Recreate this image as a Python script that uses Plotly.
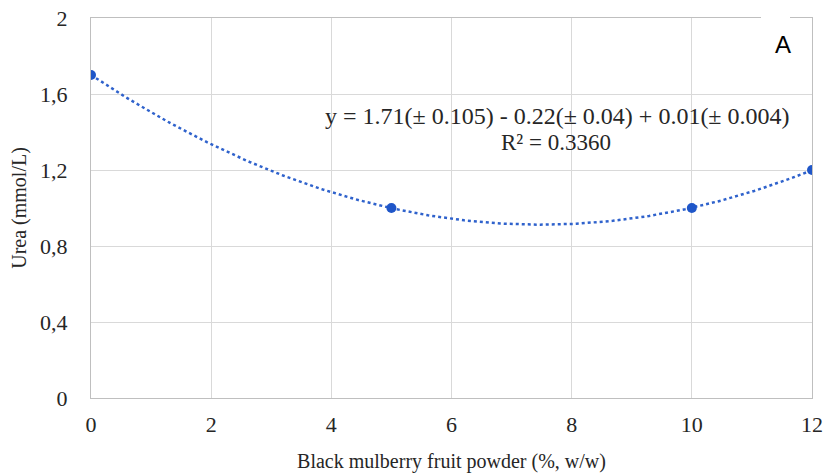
import numpy as np
import plotly.graph_objects as go

# Data
powder_pct = [0, 5, 10, 12]
urea = [1.7, 1.0, 1.0, 1.2]

x_ticks = [0, 2, 4, 6, 8, 10, 12]
y_ticks = [0, 0.4, 0.8, 1.2, 1.6, 2.0]
y_tick_labels = ["0", "0,4", "0,8", "1,2", "1,6", "2"]

equation_line = "y = 1.71(± 0.105) - 0.22(± 0.04) + 0.01(± 0.004)"
r2_line = "R² = 0.3360"

# Second-order polynomial trendline fitted to the measurements
coef = np.polyfit(powder_pct, urea, 2)
xs = np.linspace(min(powder_pct), max(powder_pct), 200)
ys = np.polyval(coef, xs)

blue = "#1f56c8"
grid = "#d9d9d9"
border = "#bfbfbf"
serif = "Liberation Serif, Times New Roman, serif"
text_col = "#262626"

# Plot area in pixels
L, R, T, B = 91, 812, 18, 398
W, H = R - L, B - T

fig = go.Figure()
fig.add_trace(go.Scatter(
    x=xs, y=ys, mode="lines",
    line=dict(color="#2f62cc", width=2.5, dash="dot"),
    hoverinfo="skip", showlegend=False,
))
fig.add_trace(go.Scatter(
    x=powder_pct, y=urea, mode="markers",
    marker=dict(color=blue, size=10),
    showlegend=False,
))

fig.update_xaxes(
    range=[0, 12], tickvals=x_ticks, automargin=False,
    showgrid=True, gridcolor=grid, gridwidth=1.3,
    showline=True, linecolor=border, linewidth=1.3, mirror=True,
    zeroline=False, ticks="", ticklen=0, ticklabelstandoff=6,
    tickfont=dict(family=serif, size=22, color=text_col),
    title=dict(text="Black mulberry fruit powder (%, w/w)",
               font=dict(family=serif, size=20, color=text_col), standoff=18),
)
fig.update_yaxes(
    range=[0, 2], tickvals=y_ticks, ticktext=y_tick_labels, automargin=False,
    showgrid=True, gridcolor=grid, gridwidth=1.3,
    showline=True, linecolor=border, linewidth=1.3, mirror=True,
    zeroline=False, ticks="", ticklen=0, ticklabelstandoff=18,
    tickfont=dict(family=serif, size=22, color=text_col),
    title=dict(text="Urea (mmol/L)",
               font=dict(family=serif, size=20, color=text_col), standoff=7),
)

# Trendline equation
fig.add_annotation(
    x=(557 - L) / W, y=(B - 116) / H, xref="paper", yref="paper",
    text=equation_line, showarrow=False, xanchor="center", yanchor="middle",
    font=dict(family=serif, size=24, color=text_col),
)
fig.add_annotation(
    x=(556 - L) / W, y=(B - 142) / H, xref="paper", yref="paper",
    text=r2_line, showarrow=False, xanchor="center", yanchor="middle",
    font=dict(family=serif, size=23, color=text_col),
)

# Panel label box
fig.add_shape(type="rect", xref="paper", yref="paper",
              x0=(761 - L) / W, x1=(790 - L) / W, y0=(B - 65) / H, y1=(B - 10) / H,
              fillcolor="white", line=dict(width=0), layer="above")
fig.add_annotation(
    x=(783 - L) / W, y=(B - 44) / H, xref="paper", yref="paper",
    text="A", showarrow=False, xanchor="center", yanchor="middle",
    font=dict(family="Liberation Sans, Arial, sans-serif", size=24, color="black"),
)

fig.update_layout(
    width=827, height=476,
    margin=dict(l=L, r=827 - R, t=T, b=476 - B),
    plot_bgcolor="white", paper_bgcolor="white",
)

fig.write_html("out.html")
